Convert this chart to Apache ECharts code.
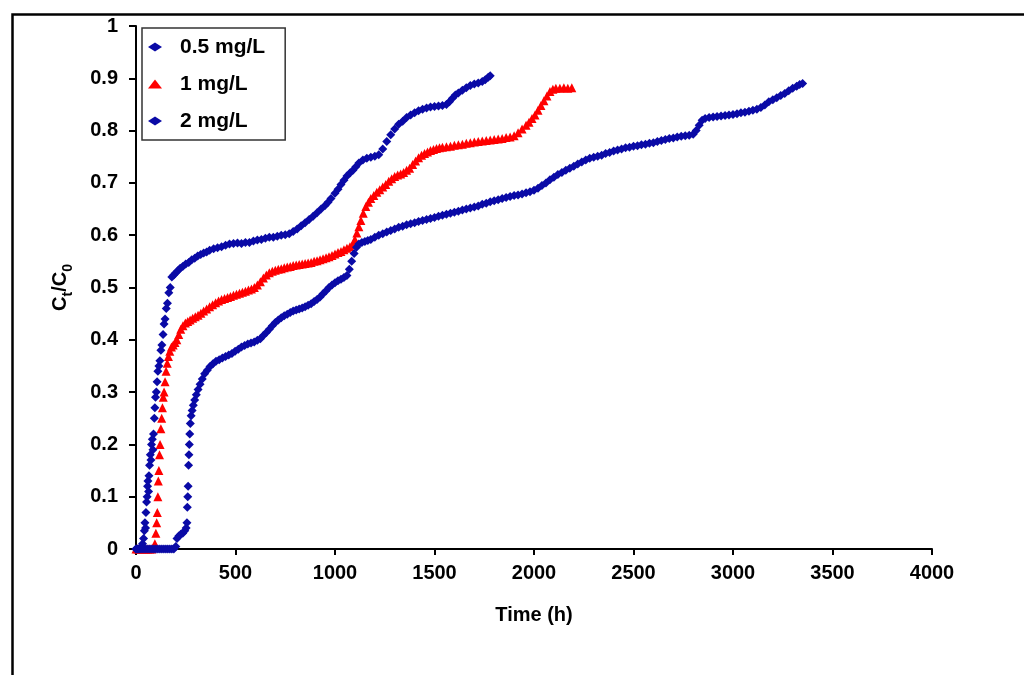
<!DOCTYPE html>
<html>
<head>
<meta charset="utf-8">
<title>Ct/C0 vs Time</title>
<script src="https://cdn.jsdelivr.net/npm/echarts@6/dist/echarts.min.js"></script>
<style>
  html, body { margin: 0; padding: 0; background: #ffffff; }
  #chart { width: 1024px; height: 675px; }
</style>
</head>
<body>
<div id="chart"></div>
<script>
// Breakthrough curves: [time (h), Ct/C0]
const seriesNames = ['0.5 mg/L', '1 mg/L', '2 mg/L'];

const conc05 = [
  [0,0],[8,0],[15,0],[22,0.002],[28,0.005],[33,0.01],[38,0.02],[42,0.035],[45,0.05],[48,0.04],
  [50,0.07],[53,0.09],[56,0.1],[58,0.12],[60,0.13],[63,0.11],[65,0.14],[68,0.16],[72,0.18],[75,0.17],
  [78,0.2],[82,0.21],[85,0.19],[88,0.22],[92,0.25],[95,0.27],[98,0.29],[102,0.3],[106,0.32],[110,0.34],
  [115,0.35],[120,0.36],[125,0.38],[130,0.39],[136,0.41],[141,0.43],[146,0.44],[152,0.46],[158,0.47],
  [165,0.49],[172,0.5],[180,0.52],[190,0.524],[200,0.528],[210,0.532],[222,0.537],[235,0.54],[250,0.545],
  [265,0.548],[280,0.553],[295,0.556],[310,0.56],[325,0.563],[340,0.566],[355,0.568],[370,0.571],
  [390,0.574],[410,0.576],[430,0.578],[450,0.581],[470,0.583],[490,0.584],[510,0.585],[530,0.584],
  [550,0.586],[570,0.586],[590,0.589],[610,0.591],[630,0.592],[650,0.594],[670,0.596],[690,0.596],
  [710,0.598],[730,0.6],[750,0.601],[770,0.603],[790,0.607],[810,0.612],[830,0.618],[850,0.624],
  [870,0.63],[890,0.636],[910,0.643],[930,0.65],[950,0.657],[965,0.663],[980,0.67],[1000,0.68],
  [1015,0.688],[1030,0.697],[1045,0.705],[1060,0.713],[1075,0.719],[1090,0.724],[1105,0.731],
  [1120,0.738],[1140,0.744],[1160,0.747],[1180,0.749],[1200,0.751],[1220,0.754],[1240,0.765],
  [1260,0.779],[1280,0.792],[1300,0.803],[1320,0.812],[1340,0.818],[1360,0.825],[1380,0.83],
  [1400,0.834],[1420,0.838],[1440,0.841],[1460,0.843],[1480,0.845],[1500,0.846],[1520,0.847],
  [1540,0.848],[1560,0.85],[1575,0.855],[1590,0.862],[1605,0.868],[1620,0.872],[1640,0.877],
  [1660,0.882],[1680,0.886],[1700,0.889],[1720,0.891],[1740,0.894],[1755,0.897],[1770,0.902],[1780,0.905]
];

const conc1 = [
  [0,0],[10,0],[20,0],[30,0],[40,0],[50,0],[60,0],[70,0],[80,0],[88,0.003],[95,0.01],[100,0.03],
  [104,0.05],[107,0.07],[110,0.1],[112,0.13],[115,0.15],[118,0.18],[121,0.2],[125,0.23],[129,0.25],
  [133,0.27],[137,0.29],[141,0.3],[146,0.32],[151,0.34],[157,0.355],[163,0.368],[170,0.378],[178,0.386],
  [187,0.39],[196,0.395],[205,0.4],[215,0.41],[225,0.42],[236,0.427],[248,0.432],[260,0.435],[272,0.438],
  [285,0.441],[298,0.444],[312,0.447],[326,0.451],[340,0.455],[355,0.459],[370,0.463],[385,0.467],
  [400,0.471],[415,0.474],[430,0.477],[445,0.479],[460,0.481],[475,0.483],[490,0.485],[505,0.487],
  [520,0.489],[535,0.491],[550,0.493],[565,0.495],[580,0.497],[595,0.5],[610,0.505],[625,0.511],
  [640,0.518],[655,0.524],[670,0.528],[685,0.531],[700,0.533],[715,0.535],[730,0.536],[745,0.538],
  [760,0.539],[775,0.54],[790,0.542],[805,0.543],[820,0.544],[835,0.545],[850,0.546],[865,0.547],
  [880,0.548],[895,0.55],[910,0.551],[925,0.553],[940,0.555],[955,0.557],[970,0.559],[985,0.561],
  [1000,0.564],[1015,0.567],[1030,0.569],[1045,0.572],[1060,0.575],[1075,0.578],[1090,0.582],
  [1100,0.592],[1110,0.604],[1120,0.616],[1130,0.628],[1142,0.642],[1155,0.655],[1168,0.663],
  [1180,0.67],[1195,0.676],[1210,0.682],[1225,0.687],[1240,0.692],[1255,0.697],[1270,0.703],
  [1285,0.708],[1300,0.712],[1315,0.715],[1330,0.717],[1345,0.72],[1360,0.724],[1375,0.728],
  [1390,0.735],[1405,0.742],[1420,0.748],[1435,0.753],[1450,0.756],[1465,0.759],[1480,0.762],
  [1495,0.764],[1510,0.766],[1525,0.767],[1540,0.768],[1560,0.769],[1580,0.77],[1600,0.772],
  [1620,0.773],[1640,0.774],[1660,0.776],[1680,0.777],[1700,0.778],[1720,0.779],[1740,0.78],
  [1760,0.781],[1780,0.782],[1800,0.783],[1820,0.784],[1840,0.785],[1860,0.787],[1880,0.788],
  [1900,0.79],[1920,0.796],[1940,0.803],[1960,0.81],[1975,0.816],[1990,0.823],[2005,0.83],
  [2020,0.839],[2035,0.848],[2050,0.857],[2065,0.866],[2080,0.875],[2095,0.879],[2110,0.881],
  [2130,0.881],[2150,0.882],[2170,0.881],[2190,0.882]
];

const conc2 = [
  [0,0],[10,0],[20,0],[30,0],[40,0],[50,0],[60,0],[70,0],[80,0],[90,0],[100,0],[110,0],[120,0],
  [130,0],[140,0],[150,0],[160,0],[170,0],[180,0],[190,0],[200,0.005],[206,0.02],[215,0.025],
  [225,0.028],[235,0.03],[245,0.035],[252,0.04],[256,0.05],[258,0.08],[260,0.1],[262,0.12],[264,0.16],
  [266,0.18],[268,0.2],[270,0.22],[273,0.24],[277,0.255],[282,0.265],[288,0.275],[295,0.285],
  [303,0.295],[312,0.305],[322,0.315],[333,0.325],[345,0.335],[358,0.342],[372,0.349],[387,0.354],
  [402,0.359],[418,0.362],[434,0.365],[450,0.368],[466,0.371],[482,0.374],[498,0.378],[514,0.382],
  [530,0.386],[546,0.389],[562,0.392],[578,0.394],[594,0.396],[610,0.399],[625,0.402],[640,0.408],
  [655,0.414],[670,0.42],[685,0.427],[700,0.433],[715,0.438],[730,0.442],[745,0.446],[760,0.449],
  [775,0.452],[790,0.455],[805,0.457],[820,0.459],[835,0.461],[850,0.463],[865,0.466],[880,0.469],
  [895,0.473],[910,0.477],[925,0.482],[940,0.488],[955,0.494],[970,0.5],[985,0.505],[1000,0.509],
  [1015,0.513],[1030,0.516],[1045,0.519],[1060,0.523],[1072,0.535],[1084,0.55],[1096,0.565],
  [1108,0.577],[1120,0.583],[1135,0.586],[1150,0.588],[1165,0.59],[1180,0.592],[1200,0.596],
  [1220,0.6],[1240,0.603],[1260,0.606],[1280,0.609],[1300,0.612],[1320,0.615],[1340,0.617],
  [1360,0.62],[1380,0.622],[1400,0.624],[1420,0.626],[1440,0.628],[1460,0.63],[1480,0.632],
  [1500,0.634],[1520,0.636],[1540,0.638],[1560,0.64],[1580,0.642],[1600,0.644],[1620,0.646],
  [1640,0.648],[1660,0.65],[1680,0.652],[1700,0.654],[1720,0.656],[1740,0.659],[1760,0.661],
  [1780,0.664],[1800,0.666],[1820,0.668],[1840,0.67],[1860,0.672],[1880,0.674],[1900,0.676],
  [1920,0.677],[1940,0.679],[1960,0.681],[1980,0.683],[2000,0.686],[2020,0.69],[2040,0.695],
  [2060,0.7],[2080,0.706],[2100,0.711],[2120,0.716],[2140,0.72],[2160,0.724],[2180,0.728],
  [2200,0.732],[2220,0.736],[2240,0.74],[2260,0.744],[2280,0.747],[2300,0.749],[2320,0.751],
  [2340,0.753],[2360,0.756],[2380,0.758],[2400,0.761],[2420,0.763],[2440,0.765],[2460,0.767],
  [2480,0.768],[2500,0.77],[2520,0.771],[2540,0.773],[2560,0.774],[2580,0.776],[2600,0.777],
  [2620,0.779],[2640,0.781],[2660,0.783],[2680,0.785],[2700,0.786],[2720,0.788],[2740,0.789],
  [2760,0.79],[2780,0.791],[2800,0.793],[2815,0.8],[2830,0.81],[2845,0.82],[2860,0.823],[2880,0.825],
  [2900,0.826],[2920,0.827],[2940,0.828],[2960,0.829],[2980,0.83],[3000,0.831],[3020,0.832],
  [3040,0.834],[3060,0.835],[3080,0.837],[3100,0.839],[3120,0.841],[3140,0.844],[3160,0.849],
  [3180,0.855],[3200,0.859],[3220,0.863],[3240,0.867],[3260,0.871],[3280,0.876],[3300,0.881],
  [3320,0.885],[3335,0.888],[3350,0.89]
];

const FONT = '"Liberation Sans", Arial, sans-serif';
const BLUE = '#0a0aa6';
const RED = '#ff0000';

const chart = echarts.init(document.getElementById('chart'), null, { renderer: 'canvas' });

chart.setOption({
  backgroundColor: '#ffffff',
  animation: false,
  textStyle: { fontFamily: FONT, color: '#000' },
  graphic: [{
    type: 'rect',
    left: 10, top: 12,
    shape: { width: 1040, height: 700 },
    style: { fill: null, stroke: '#000', lineWidth: 2.5 },
    silent: true
  }],
  grid: { left: 136, right: 92, top: 26, bottom: 126, containLabel: false },
  legend: {
    orient: 'vertical',
    left: 142, top: 28,
    padding: [8, 20, 8, 6],
    itemWidth: 14, itemHeight: 9,
    itemGap: 15,
    borderColor: '#333',
    borderWidth: 1.5,
    backgroundColor: '#fff',
    textStyle: { fontFamily: FONT, fontWeight: 'bold', fontSize: 21, color: '#000',
                 lineHeight: 22, padding: [0, 0, 0, 13] },
    data: seriesNames
  },
  xAxis: {
    type: 'value', min: 0, max: 4000, interval: 500,
    name: 'Time (h)', nameLocation: 'middle', nameGap: 56,
    nameTextStyle: { fontFamily: FONT, fontWeight: 'bold', fontSize: 20, color: '#000' },
    axisLine: { onZero: false, lineStyle: { color: '#000', width: 2 } },
    axisTick: { inside: false, length: 6, lineStyle: { color: '#000', width: 2 } },
    axisLabel: { margin: 14, fontFamily: FONT, fontWeight: 'bold', fontSize: 20, color: '#000',
                 formatter: v => String(v) },
    splitLine: { show: false }
  },
  yAxis: {
    type: 'value', min: 0, max: 1, interval: 0.1,
    name: '{m|C}{s|t}{m|/C}{s|0}', nameLocation: 'middle', nameGap: 63, nameRotate: 90,
    nameTextStyle: {
      rich: {
        m: { fontFamily: FONT, fontWeight: 'bold', fontSize: 20, color: '#000', lineHeight: 26 },
        s: { fontFamily: FONT, fontWeight: 'bold', fontSize: 14, color: '#000', lineHeight: 26,
             verticalAlign: 'bottom', padding: [0, 0, -2, 0] }
      }
    },
    axisLine: { show: true, onZero: false, lineStyle: { color: '#000', width: 2 } },
    axisTick: { show: true, inside: false, length: 7, lineStyle: { color: '#000', width: 2 } },
    axisLabel: { margin: 18, fontFamily: FONT, fontWeight: 'bold', fontSize: 20, color: '#000' },
    splitLine: { show: false }
  },
  series: [
    { name: seriesNames[0], type: 'scatter', data: conc05, symbol: 'diamond', symbolSize: 9,
      itemStyle: { color: BLUE, opacity: 1 }, z: 3 },
    { name: seriesNames[1], type: 'scatter', data: conc1, symbol: 'triangle', symbolSize: 9,
      itemStyle: { color: RED, opacity: 1 }, z: 2 },
    { name: seriesNames[2], type: 'scatter', data: conc2, symbol: 'diamond', symbolSize: 9,
      itemStyle: { color: BLUE, opacity: 1 }, z: 3 }
  ]
});
</script>
</body>
</html>
